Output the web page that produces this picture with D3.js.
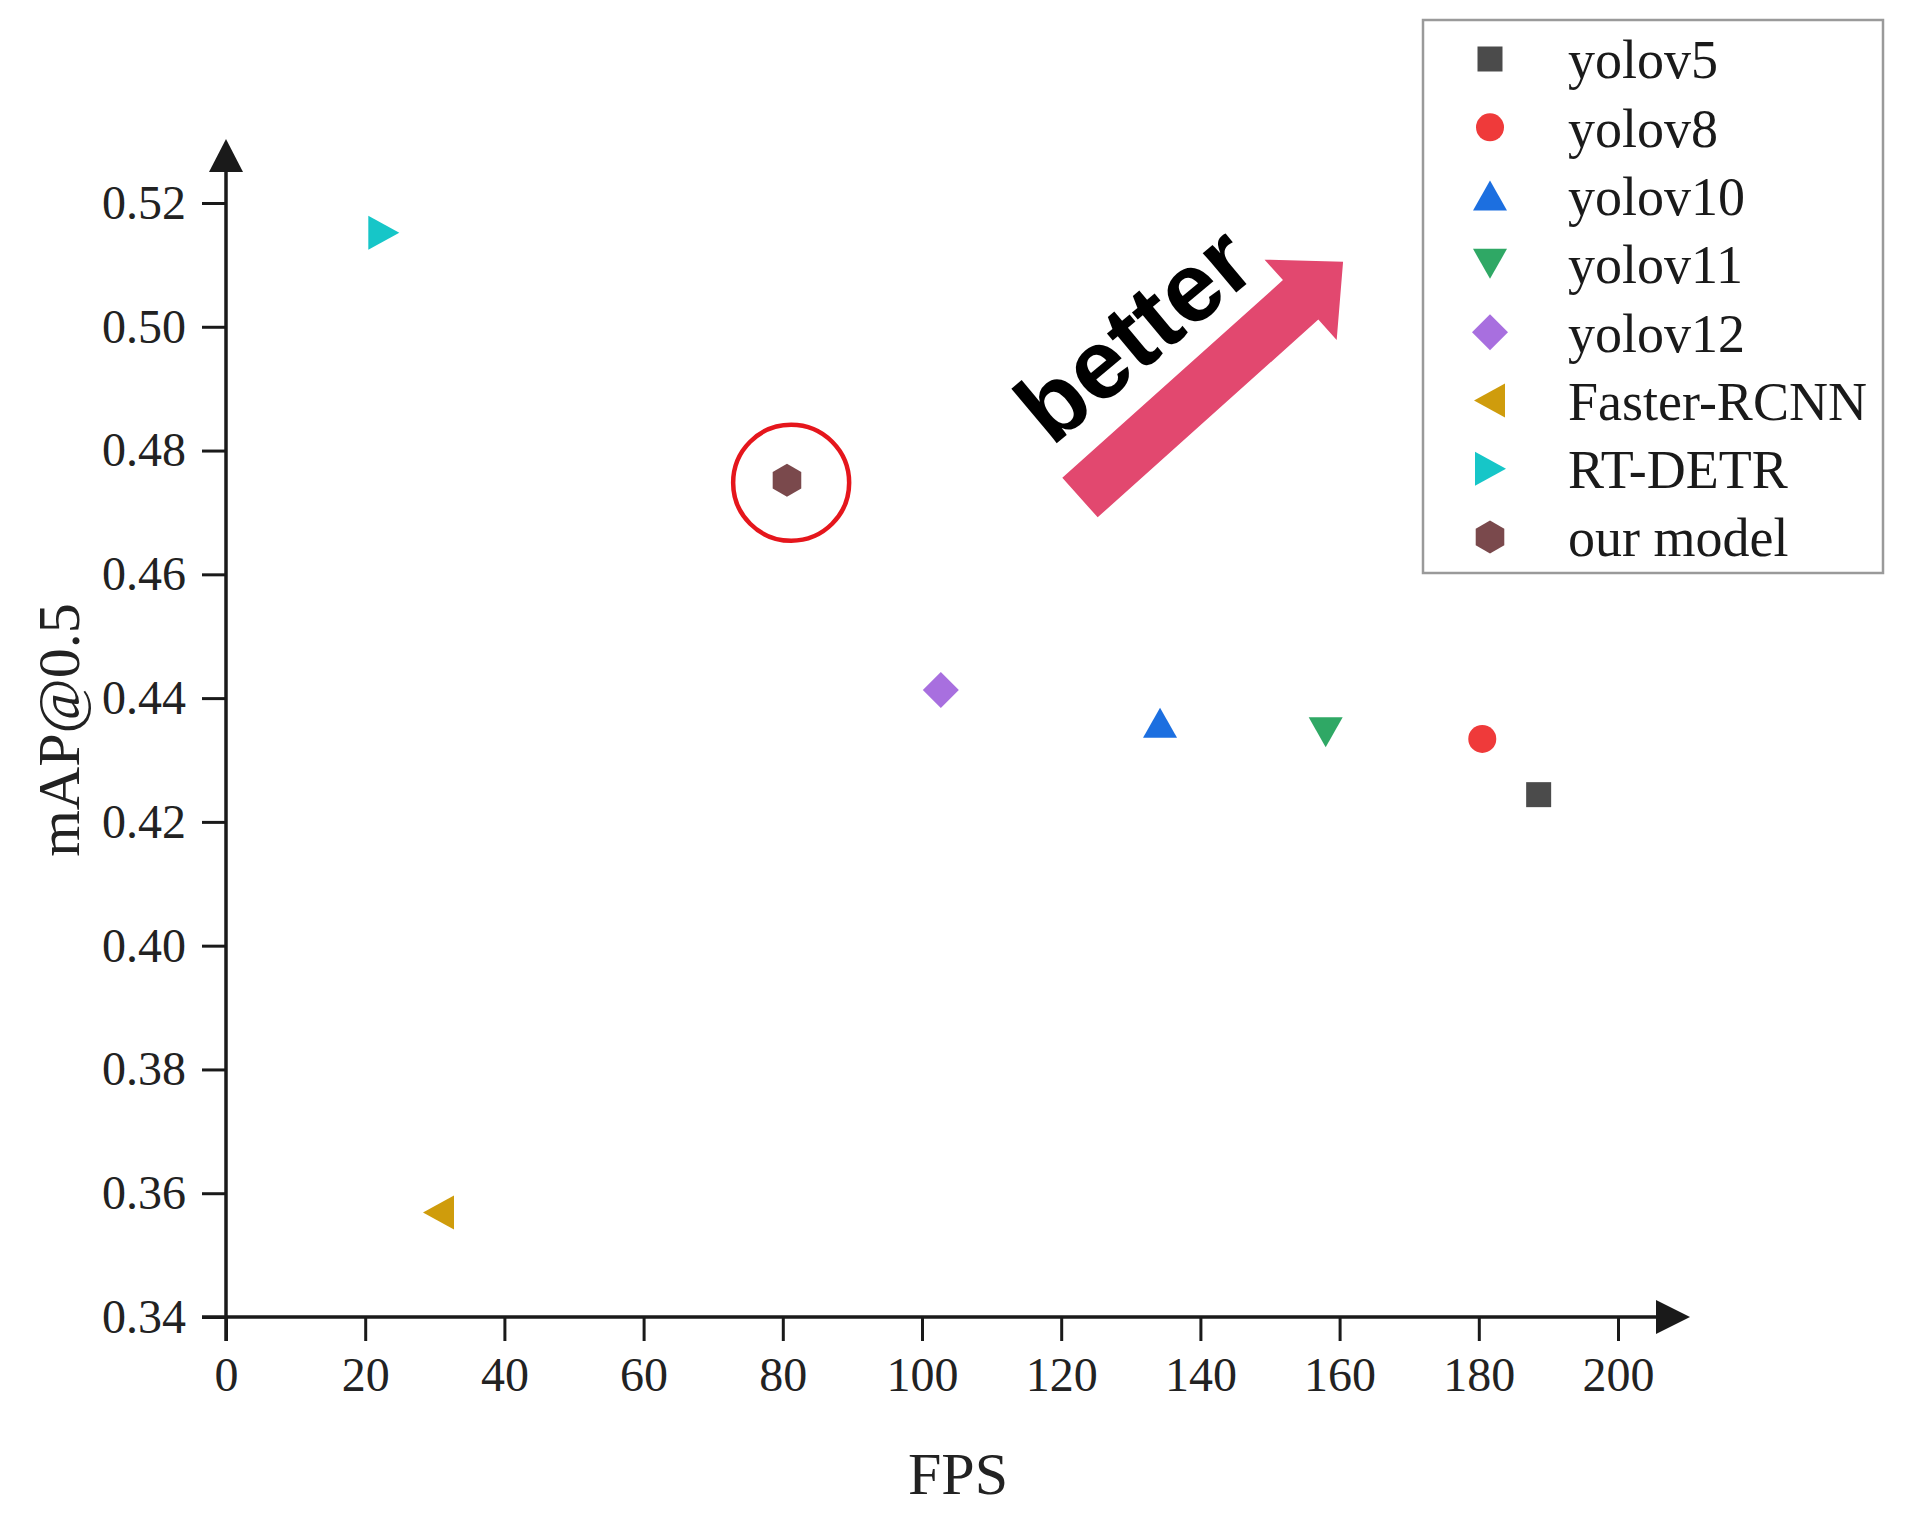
<!DOCTYPE html>
<html>
<head>
<meta charset="utf-8">
<script src="https://cdn.jsdelivr.net/npm/d3@7"></script>
<style>
  html, body { margin: 0; padding: 0; background: #ffffff; }
  svg { display: block; }
</style>
</head>
<body>
<div id="chart"></div>
<script>
// ---------------- data ----------------
const models = ["yolov5", "yolov8", "yolov10", "yolov11", "yolov12", "Faster-RCNN", "RT-DETR", "our model"];
const fpsValues = [188.6, 180.5, 134.2, 158.0, 102.7, 30.6, 22.6, 80.6];
const mapValues = [0.4244, 0.4334, 0.4360, 0.4345, 0.4413, 0.3569, 0.5152, 0.4752];
const markerShapes = ["square", "circle", "triangleUp", "triangleDown", "diamond", "triangleLeft", "triangleRight", "hexagon"];
const markerColors = ["#4b4b4b", "#ef3a3a", "#1c6fe0", "#2fa865", "#a86fdf", "#cf9c0c", "#16c6c8", "#7a494c"];
const xTicks = [0, 20, 40, 60, 80, 100, 120, 140, 160, 180, 200];
const yTicks = [0.34, 0.36, 0.38, 0.40, 0.42, 0.44, 0.46, 0.48, 0.50, 0.52];
const xTitle = "FPS";
const yTitle = "mAP@0.5";
const betterLabel = "better";
// annotation anchors in data units [FPS, mAP]
const arrowTail = [122.7, 0.4724];
const arrowTip = [160.5, 0.5105];
const highlight = [81.2, 0.4748];

// ---------------- setup ----------------
const W = 1906, H = 1517;
const svg = d3.select("#chart").append("svg").attr("width", W).attr("height", H);

const x = d3.scaleLinear().domain([0, 200]).range([226, 1618]);
const y = d3.scaleLinear().domain([0.34, 0.52]).range([1317, 203]);

const serif = "'Liberation Serif', 'Times New Roman', serif";

// ---------------- axes ----------------
const xAxis = d3.axisBottom(x).tickValues(xTicks).tickSize(24).tickPadding(16).tickFormat(d3.format("d"));
const yAxis = d3.axisLeft(y).tickValues(yTicks).tickSize(24).tickPadding(16).tickFormat(d3.format(".2f"));

const gx = svg.append("g").attr("transform", `translate(0,${y(0.34)})`).call(xAxis);
const gy = svg.append("g").attr("transform", `translate(${x(0)},0)`).call(yAxis);
[gx, gy].forEach(g => {
  g.select(".domain").remove();
  g.selectAll(".tick line").attr("stroke", "#1a1a1a").attr("stroke-width", 3);
  g.selectAll(".tick text").attr("fill", "#222").style("font-family", serif).style("font-size", "48px");
});

// axis lines with arrow heads
const axisColor = "#1a1a1a";
svg.append("line").attr("x1", x(0) - 24).attr("x2", 1656).attr("y1", y(0.34)).attr("y2", y(0.34))
  .attr("stroke", axisColor).attr("stroke-width", 3.5);
svg.append("path")
  .attr("d", `M1656,${y(0.34) - 17} L1690,${y(0.34)} L1656,${y(0.34) + 17} Z`)
  .attr("fill", axisColor);
svg.append("line").attr("x1", x(0)).attr("x2", x(0)).attr("y1", y(0.34) + 24).attr("y2", 170)
  .attr("stroke", axisColor).attr("stroke-width", 3.5);
svg.append("path")
  .attr("d", `M${x(0) - 17},172 L${x(0)},139 L${x(0) + 17},172 Z`)
  .attr("fill", axisColor);

// axis titles
svg.append("text").attr("x", 958).attr("y", 1494).attr("text-anchor", "middle")
  .style("font-family", serif).style("font-size", "60px").attr("fill", "#222").text(xTitle);
svg.append("text").attr("transform", "translate(79,730) rotate(-90)").attr("text-anchor", "middle")
  .style("font-family", serif).style("font-size", "60px").attr("fill", "#222").text(yTitle);

// ---------------- markers ----------------
function shapePath(shape) {
  switch (shape) {
    case "square": return "M-12.5,-12.5 H12.5 V12.5 H-12.5 Z";
    case "circle": return d3.arc()({innerRadius: 0, outerRadius: 14, startAngle: 0, endAngle: 2 * Math.PI});
    case "triangleUp": return "M0,-15 L17,15 L-17,15 Z";
    case "triangleDown": return "M-17,-15 L17,-15 L0,15 Z";
    case "diamond": return "M0,-18 L18,0 L0,18 L-18,0 Z";
    case "triangleLeft": return "M-16,0 L15,-17 L15,17 Z";
    case "triangleRight": return "M-15,-17 L16,0 L-15,17 Z";
    case "hexagon": {
      const r = 16.5;
      const pts = d3.range(6).map(i => {
        const a = (-90 + 60 * i) * Math.PI / 180;
        return [r * Math.cos(a), r * Math.sin(a)];
      });
      return "M" + pts.map(p => p.join(",")).join("L") + "Z";
    }
  }
}

const points = models.map((m, i) => ({name: m, fps: fpsValues[i], map: mapValues[i], shape: markerShapes[i], color: markerColors[i]}));

// ---------------- annotations ----------------
// highlight circle
svg.append("circle").attr("cx", x(highlight[0])).attr("cy", y(highlight[1])).attr("r", 58)
  .attr("fill", "none").attr("stroke", "#e5161c").attr("stroke-width", 4.5);

// "better" arrow
{
  const x0 = x(arrowTail[0]), y0 = y(arrowTail[1]);
  const x1 = x(arrowTip[0]), y1 = y(arrowTip[1]);
  const L = Math.hypot(x1 - x0, y1 - y0);
  const ang = Math.atan2(y1 - y0, x1 - x0) * 180 / Math.PI;
  const sw = 26.5, hl = 57, hw = 54;
  svg.append("path")
    .attr("transform", `translate(${x0},${y0}) rotate(${ang})`)
    .attr("d", `M0,${-sw} L${L - hl},${-sw} L${L - hl},${-hw} L${L},0 L${L - hl},${hw} L${L - hl},${sw} L0,${sw} Z`)
    .attr("fill", "#e2486f");
}
svg.append("text")
  .attr("transform", "translate(1156,360) rotate(-40)")
  .attr("text-anchor", "middle")
  .style("font-family", "'Liberation Sans', Arial, sans-serif")
  .style("font-weight", "bold").style("font-size", "98px").attr("fill", "#000")
  .text(betterLabel);

svg.append("g").selectAll("path").data(points).join("path")
  .attr("transform", d => `translate(${x(d.fps)},${y(d.map)})`)
  .attr("d", d => shapePath(d.shape))
  .attr("fill", d => d.color);

// ---------------- legend ----------------
const legend = svg.append("g");
legend.append("rect").attr("x", 1423).attr("y", 20).attr("width", 460).attr("height", 553)
  .attr("fill", "#fff").attr("stroke", "#9a9a9a").attr("stroke-width", 2.5);
const itemY = d3.scaleLinear().domain([0, models.length - 1]).range([59, 537]);
const items = legend.selectAll("g.item").data(points).join("g").attr("class", "item")
  .attr("transform", (d, i) => `translate(0,${itemY(i)})`);
items.append("path").attr("transform", "translate(1490,0)").attr("d", d => shapePath(d.shape)).attr("fill", d => d.color);
items.append("text").attr("x", 1568).attr("dy", "0.36em")
  .style("font-family", serif).style("font-size", "54px").attr("fill", "#1a1a1a")
  .text(d => d.name);
</script>
</body>
</html>
